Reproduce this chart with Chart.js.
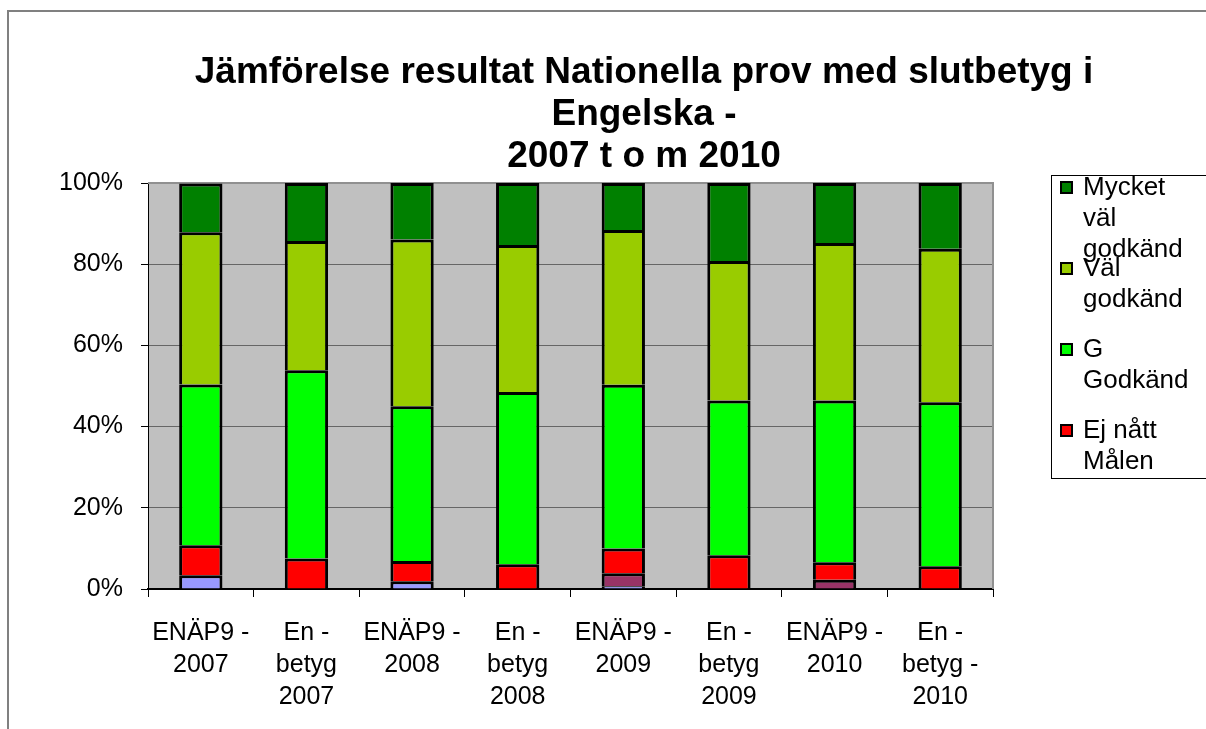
<!DOCTYPE html>
<html>
<head>
<meta charset="utf-8">
<script src="https://cdn.jsdelivr.net/npm/chart.js@4/dist/chart.umd.min.js"></script>
<style>
  body { margin: 0; background: #fff; }
  #chart { display: block; }
</style>
</head>
<body>
<canvas id="chart" width="1206" height="729"></canvas>
<script>
// values in %
var categories = [
  ["ENÄP9 -", "2007"], ["En -", "betyg", "2007"],
  ["ENÄP9 -", "2008"], ["En -", "betyg", "2008"],
  ["ENÄP9 -", "2009"], ["En -", "betyg", "2009"],
  ["ENÄP9 -", "2010"], ["En -", "betyg -", "2010"]
];
var series1 = [3.4, null, 1.9, null, 0.7, null, null, null];
var series2 = [null, null, null, null, 3.2, null, 2.3, null];
var ejNatt = [7.4, 7.5, 5.0, 6.1, 6.1, 8.3, 4.3, 5.6];
var godkand = [39.6, 46.4, 38.1, 42.4, 40.3, 38.1, 39.8, 40.4];
var valGodkand = [37.5, 31.8, 41.1, 36.2, 38.1, 34.4, 38.8, 37.8];
var mycketVal = [12.0, 14.3, 13.9, 15.3, 11.6, 19.2, 14.8, 16.2];
var yTicks = [0, 20, 40, 60, 80, 100];
var titleLines = ["Jämförelse resultat Nationella prov med slutbetyg i", "Engelska -", "2007 t o m 2010"];

var font = "'Liberation Sans', Arial, sans-serif";

var frame = {
  id: "frame",
  beforeDraw: function (chart) {
    var c = chart.ctx, a = chart.chartArea;
    c.save();
    c.fillStyle = "#fff";
    c.fillRect(0, 0, chart.width, chart.height);
    c.strokeStyle = "#808080";
    c.lineWidth = 2;
    c.strokeRect(8, 11, chart.width + 10, chart.height + 10);
    c.fillStyle = "#c0c0c0";
    c.fillRect(a.left, a.top, a.right - a.left, a.bottom - a.top);
    c.restore();
  },
  beforeDatasetsDraw: function (chart) {
    var c = chart.ctx, a = chart.chartArea;
    c.save();
    c.strokeStyle = "#909090";
    c.lineWidth = 2;
    c.beginPath();
    c.moveTo(a.left, a.top);
    c.lineTo(a.right, a.top);
    c.lineTo(a.right, a.bottom);
    c.stroke();
    c.restore();
  },
  afterDraw: function (chart) {
    var c = chart.ctx;
    c.save();
    // title
    c.fillStyle = "#000";
    c.font = "bold 37px " + font;
    c.textAlign = "center";
    c.textBaseline = "middle";
    titleLines.forEach(function (t, i) {
      c.fillText(t, 644, 73 + i * 42);
    });
    // legend box
    c.strokeStyle = "#000";
    c.lineWidth = 1;
    c.strokeRect(1051.5, 175.5, 200, 303);
    c.font = "26px " + font;
    c.textAlign = "left";
    var entries = chart.data.datasets.filter(function (d) { return d.legendText; }).reverse();
    entries.forEach(function (d, i) {
      var y0 = 188 + i * 81;
      c.fillStyle = d.backgroundColor;
      c.fillRect(1061, y0 - 6, 11, 11);
      c.lineWidth = 2;
      c.strokeRect(1061, y0 - 6, 11, 11);
      c.fillStyle = "#000";
      d.legendText.forEach(function (t, j) {
        c.fillText(t, 1083, y0 + j * 31);
      });
    });
    c.restore();
  }
};

function bars(label, data, color, legendText) {
  return {
    label: label,
    data: data,
    backgroundColor: color,
    borderColor: "#000",
    borderWidth: { top: 3, left: 3, right: 3, bottom: 0 },
    borderSkipped: false,
    barPercentage: 0.41,
    categoryPercentage: 1,
    legendText: legendText
  };
}

new Chart(document.getElementById("chart"), {
  type: "bar",
  data: {
    labels: categories,
    datasets: [
      bars("Serie 1", series1, "#9999ff", null),
      bars("Serie 2", series2, "#993366", null),
      bars("Ej nått Målen", ejNatt, "#ff0000", ["Ej nått", "Målen"]),
      bars("G Godkänd", godkand, "#00ff00", ["G", "Godkänd"]),
      bars("Väl godkänd", valGodkand, "#99cc00", ["Väl", "godkänd"]),
      bars("Mycket väl godkänd", mycketVal, "#008000", ["Mycket", "väl", "godkänd"])
    ]
  },
  options: {
    responsive: false,
    animation: false,
    layout: { padding: { left: 0, right: 213, top: 183, bottom: 0 } },
    plugins: {
      legend: { display: false },
      title: { display: false },
      tooltip: { enabled: false }
    },
    scales: {
      x: {
        stacked: true,
        afterFit: function (s) { s.height = 729 - 589; },
        grid: { offset: true, drawOnChartArea: false, tickLength: 8, tickColor: "#000", lineWidth: 1 },
        border: { color: "#000", width: 2 },
        ticks: { color: "#000", font: { family: font, size: 25, lineHeight: 1.28 }, padding: 20, maxRotation: 0, autoSkip: false }
      },
      y: {
        stacked: true,
        min: 0,
        max: 100,
        afterFit: function (s) { s.width = 148; },
        afterBuildTicks: function (s) { s.ticks = yTicks.map(function (v) { return { value: v }; }); },
        grid: { color: "#666", lineWidth: 1, tickLength: 7, tickColor: "#000" },
        border: { color: "#000", width: 1 },
        ticks: {
          color: "#000",
          font: { family: font, size: 25 },
          padding: 18,
          callback: function (v) { return v + "%"; }
        }
      }
    }
  },
  plugins: [frame]
});
</script>
</body>
</html>
